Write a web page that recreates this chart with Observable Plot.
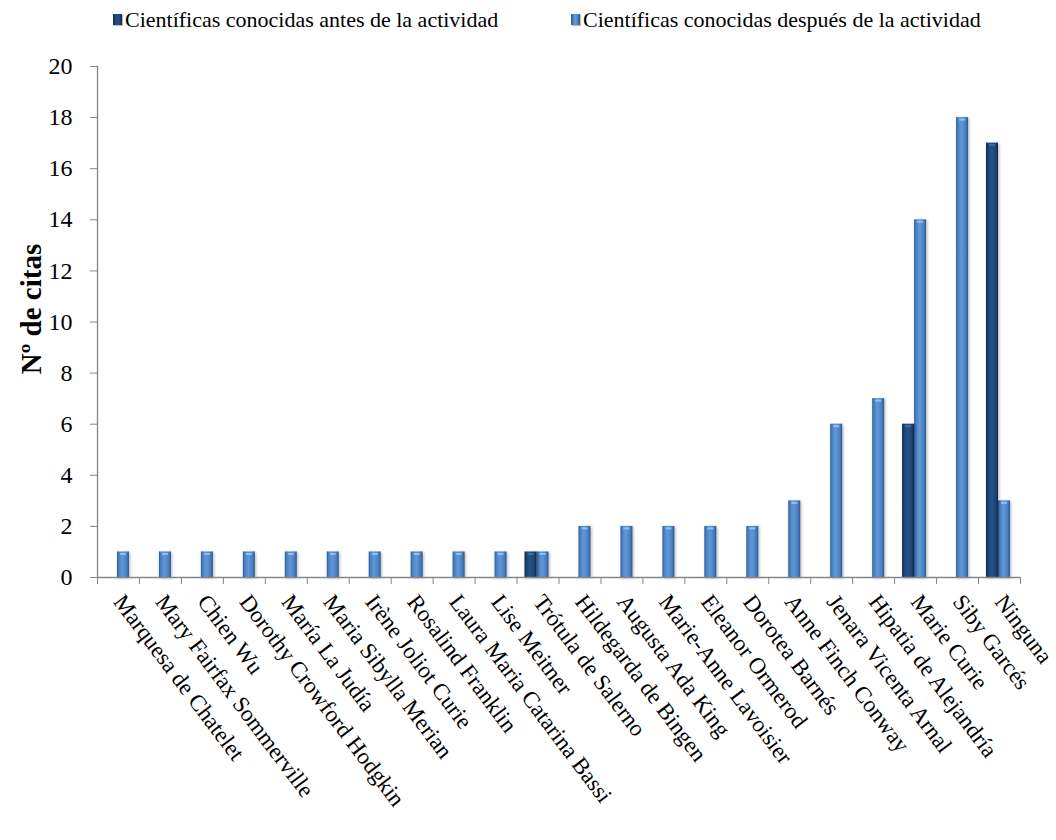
<!DOCTYPE html>
<html><head><meta charset="utf-8">
<script src="https://cdn.jsdelivr.net/npm/d3@7"></script>
<script src="https://cdn.jsdelivr.net/npm/@observablehq/plot@0.6"></script>
<style>
body{margin:0;background:#fff;font-family:"Liberation Serif","Times New Roman",serif;}
#legend{position:relative;height:44px;width:1056px;font-family:"Liberation Serif","Times New Roman",serif;}
#legend .sw{position:absolute;top:14px;width:9px;height:11px;box-shadow:1px 1px 1px rgba(0,0,0,0.25);}
#legend .lt{position:absolute;top:8px;font-size:22px;line-height:24px;color:#000;white-space:nowrap;}
svg [aria-label="y-axis tick label"] text{font-size:24px;}
svg [aria-label="x-axis tick label"] text{font-size:23px;}
</style></head><body>
<div id="legend"></div>
<div id="chart"></div>
<script>
const names = ["Marquesa de Chatelet","Mary Fairfax Sommerville","Chien Wu","Dorothy Crowford Hodgkin","María La Judía","Maria Sibylla Merian","Irène Joliot Curie","Rosalind Franklin","Laura Maria Catarina Bassi","Lise Meitner","Trótula de Salerno","Hildegarda de Bingen","Augusta Ada King","Marie-Anne Lavoisier","Eleanor Ormerod","Dorotea Barnés","Anne Finch Conway","Jenara Vicenta Arnal","Hipatia de Alejandría","Marie Curie","Siby Garcés","Ninguna"];
const antes   = [0,0,0,0,0,0,0,0,0,0,1,0,0,0,0,0,0,0,0,6,0,17];
const despues = [1,1,1,1,1,1,1,1,1,1,1,2,2,2,2,2,3,6,7,14,18,3];
const seriesNames = ["Científicas conocidas antes de la actividad","Científicas conocidas después de la actividad"];
const yTicks = [0,2,4,6,8,10,12,14,16,18,20];
const yLabel = "Nº de citas";

// legend
const legend = document.getElementById("legend");
const legendPos = [113, 571];
const swatchFill = [
  "linear-gradient(90deg,#102a4c,#24538a 45%,#1c4474 75%,#0f2746)",
  "linear-gradient(90deg,#2e5b92,#6aa0de 45%,#4a7fc1 75%,#2b5689)"
];
seriesNames.forEach((s,i)=>{
  const sw=document.createElement("span"); sw.className="sw";
  sw.style.left=legendPos[i]+"px"; sw.style.background=swatchFill[i];
  const t=document.createElement("span"); t.className="lt";
  t.style.left=(legendPos[i]+12)+"px"; t.textContent=s;
  legend.appendChild(sw); legend.appendChild(t);
});

const before = names.map((n,i)=>({name:n, value:antes[i]})).filter(d=>d.value>0);
const after  = names.map((n,i)=>({name:n, value:despues[i]})).filter(d=>d.value>0);

const W=1056, H=796, ML=97, MR=36, MT=22, MB=263;
const step=(W-ML-MR)/names.length;
const barW=12;
const inset=(step-barW)/2;

function defs(){
  const g=d3.create("svg:g");
  const d=g.append("defs");
  const mk=(id,stops)=>{
    const lg=d.append("linearGradient").attr("id",id).attr("x1","0").attr("x2","1").attr("y1","0").attr("y2","0");
    stops.forEach(([o,c])=>lg.append("stop").attr("offset",o).attr("stop-color",c));
  };
  mk("gLight",[[0,"#2e5b92"],[0.15,"#4a7fc1"],[0.45,"#6098d8"],[0.8,"#4a7fc1"],[1,"#2b5689"]]);
  mk("gDark",[[0,"#0f2746"],[0.2,"#1c4474"],[0.45,"#24538a"],[0.8,"#1c4474"],[1,"#0f2746"]]);
  const f=d.append("filter").attr("id","shadow").attr("x","-50%").attr("y","-10%").attr("width","200%").attr("height","130%");
  f.append("feDropShadow").attr("dx",1).attr("dy",1).attr("stdDeviation",1.5).attr("flood-color","#000").attr("flood-opacity",0.3);
  return g.node();
}

const chart = Plot.plot({
  width:W, height:H, marginLeft:ML, marginRight:MR, marginTop:MT, marginBottom:MB,
  style:{fontFamily:'"Liberation Serif","Times New Roman",serif', fontSize:"22px", color:"#000", background:"#fff", overflow:"visible"},
  x:{domain:names, padding:0, paddingInner:0, paddingOuter:0, round:false, label:null},
  y:{domain:[0,20], label:null},
  marks:[
    defs,
    Plot.barY(after,{x:"name", y:"value", fill:"url(#gLight)", dx:5, insetLeft:inset, insetRight:inset}),
    Plot.barY(before,{x:"name", y:"value", fill:"url(#gDark)", dx:-7, insetLeft:inset, insetRight:inset}),
    Plot.tickY(after,{x:"name", y:"value", stroke:"#8cc0f0", strokeWidth:2, dx:5, dy:2, insetLeft:inset+3, insetRight:inset+3}),
    Plot.tickY(before,{x:"name", y:"value", stroke:"#3f6fa8", strokeWidth:2, dx:-7, dy:2, insetLeft:inset+3, insetRight:inset+3}),
    Plot.ruleY([0],{stroke:"#868686", strokeWidth:1.3}),
    Plot.frame({anchor:"left", stroke:"#868686", strokeWidth:1.3}),
    Plot.axisY({ticks:yTicks, tickSize:7, tickPadding:18, stroke:"#868686", label:null}),
    Plot.text([yLabel],{frameAnchor:"left", rotate:-90, dx:-66, dy:-13, fontWeight:"bold", fontSize:29, textAnchor:"middle", fill:"#000"}),
    Plot.axisX({tickSize:0, tickRotate:53, tickPadding:20, label:null}),
    Plot.axisX({tickSize:7, tickFormat:()=>"", dx:step/2, stroke:"#868686", label:null}),
    Plot.axisX([names[0]],{tickSize:7, tickFormat:()=>"", dx:-step/2, stroke:"#868686", label:null})
  ]
});
d3.select(chart).selectAll('g[aria-label="bar"]').attr("filter","url(#shadow)");
document.getElementById("chart").appendChild(chart);
</script>
</body></html>
